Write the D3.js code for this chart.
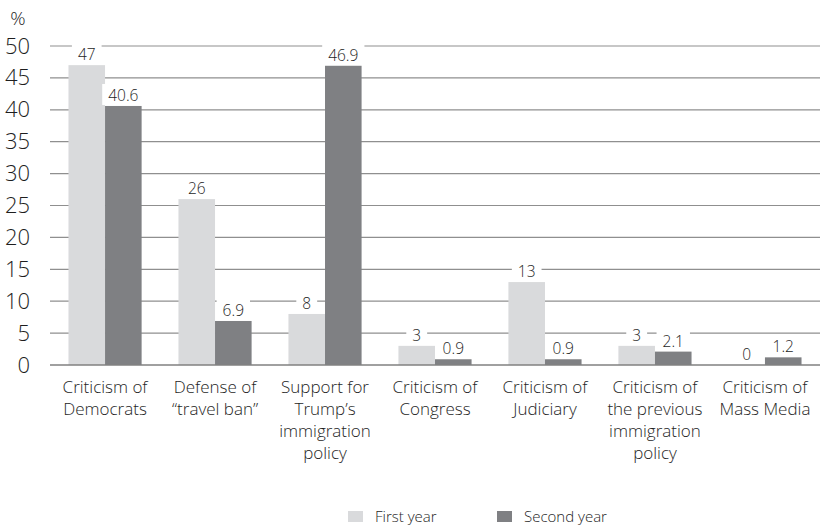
<!DOCTYPE html>
<html>
<head>
<meta charset="utf-8">
<script src="https://cdn.jsdelivr.net/npm/d3@7"></script>
<style>
  html, body { margin: 0; padding: 0; background: #fff; }
  svg { display: block; font-family: "Open Sans", sans-serif; font-weight: 300; }
</style>
</head>
<body>
<svg id="chart" width="822" height="532"></svg>
<script>
// Topics of statements, first vs second year (%)
const categories = [
  ["Criticism of", "Democrats"],
  ["Defense of", "\u201Ctravel ban\u201D"],
  ["Support for", "Trump\u2019s", "immigration", "policy"],
  ["Criticism of", "Congress"],
  ["Criticism of", "Judiciary"],
  ["Criticism of", "the previous", "immigration", "policy"],
  ["Criticism of", "Mass Media"]
];
const firstYear  = [47, 26, 8, 3, 13, 3, 0];
const secondYear = [40.6, 6.9, 46.9, 0.9, 0.9, 2.1, 1.2];
const seriesNames = ["First year", "Second year"];
const yTicks = [0, 5, 10, 15, 20, 25, 30, 35, 40, 45, 50];

const colors = ["#d9dadc", "#7f8083"];
const textColor = "#1e1e1e";

const svg = d3.select("#chart");
const margin = { left: 50, right: 2, top: 46, bottom: 167 };
const width = 822, height = 532;
const plotBottom = height - margin.bottom;

const x0 = d3.scaleBand()
  .domain(d3.range(categories.length))
  .range([margin.left, width - margin.right])
  .paddingInner(0.335)
  .paddingOuter(0.168);
const x1 = d3.scaleBand()
  .domain([0, 1])
  .range([0, x0.bandwidth()]);
const y = d3.scaleLinear().domain([0, 50]).range([plotBottom, margin.top]);

// Gridlines
svg.append("g")
  .selectAll("line")
  .data(yTicks.filter(d => d > 0))
  .join("line")
  .attr("x1", margin.left).attr("x2", width - margin.right)
  .attr("y1", d => y(d)).attr("y2", d => y(d))
  .attr("stroke", "#8f8f8f").attr("stroke-width", 1.2);

// Y axis labels
const yAxis = d3.axisLeft(y).tickValues(yTicks).tickSize(0).tickPadding(20);
const yg = svg.append("g").attr("transform", `translate(${margin.left},0)`).call(yAxis);
yg.select(".domain").remove();
yg.selectAll("text")
  .attr("font-size", 22)
  .attr("font-family", "Open Sans, sans-serif")
  .attr("font-weight", 300)
  .attr("fill", textColor);

svg.append("text")
  .attr("x", 18).attr("y", 25)
  .attr("text-anchor", "middle")
  .attr("font-size", 19)
  .attr("fill", textColor)
  .text("%");

// Bars
const groups = svg.append("g")
  .selectAll("g")
  .data(categories.map((c, i) => ({ i, vals: [firstYear[i], secondYear[i]] })))
  .join("g")
  .attr("transform", d => `translate(${x0(d.i)},0)`);

groups.selectAll("rect")
  .data(d => d.vals.map((v, s) => ({ v, s })))
  .join("rect")
  .attr("x", d => x1(d.s))
  .attr("y", d => y(d.v))
  .attr("width", x1.bandwidth())
  .attr("height", d => plotBottom - y(d.v))
  .attr("fill", d => colors[d.s]);

// Value labels with white backing
groups.each(function (d) {
  const g = d3.select(this);
  d.vals.forEach((v, s) => {
    const cx = x1(s) + x1.bandwidth() / 2;
    const ty = y(v) - 5;
    const t = g.append("text")
      .attr("x", cx).attr("y", ty)
      .attr("text-anchor", "middle")
      .attr("font-size", 15.5)
      .attr("fill", textColor)
      .text(String(v));
    const bb = t.node().getBBox();
    g.insert("rect", () => t.node())
      .attr("x", bb.x - 6).attr("y", bb.y)
      .attr("width", bb.width + 12).attr("height", bb.height - 1)
      .attr("fill", "#fff");
  });
});

// Baseline
svg.append("line")
  .attr("x1", margin.left).attr("x2", width - margin.right)
  .attr("y1", plotBottom).attr("y2", plotBottom)
  .attr("stroke", "#808080").attr("stroke-width", 1.5);

// Category labels
const cat = svg.append("g");
categories.forEach((lines, i) => {
  const t = cat.append("text")
    .attr("x", x0(i) + x0.bandwidth() / 2)
    .attr("y", plotBottom + 28)
    .attr("text-anchor", "middle")
    .attr("font-size", 17)
    .attr("fill", textColor);
  lines.forEach((ln, k) => {
    t.append("tspan")
      .attr("x", x0(i) + x0.bandwidth() / 2)
      .attr("dy", k === 0 ? 0 : 22)
      .text(ln);
  });
});

// Legend
const legend = svg.append("g").attr("transform", "translate(348,511)");
const legendX = [0, 149];
seriesNames.forEach((name, s) => {
  const lg = legend.append("g").attr("transform", `translate(${legendX[s]},0)`);
  lg.append("rect").attr("width", 15).attr("height", 11).attr("fill", colors[s]);
  lg.append("text").attr("x", 27).attr("y", 11)
    .attr("font-size", 15).attr("fill", textColor).text(name);
});
</script>
</body>
</html>
